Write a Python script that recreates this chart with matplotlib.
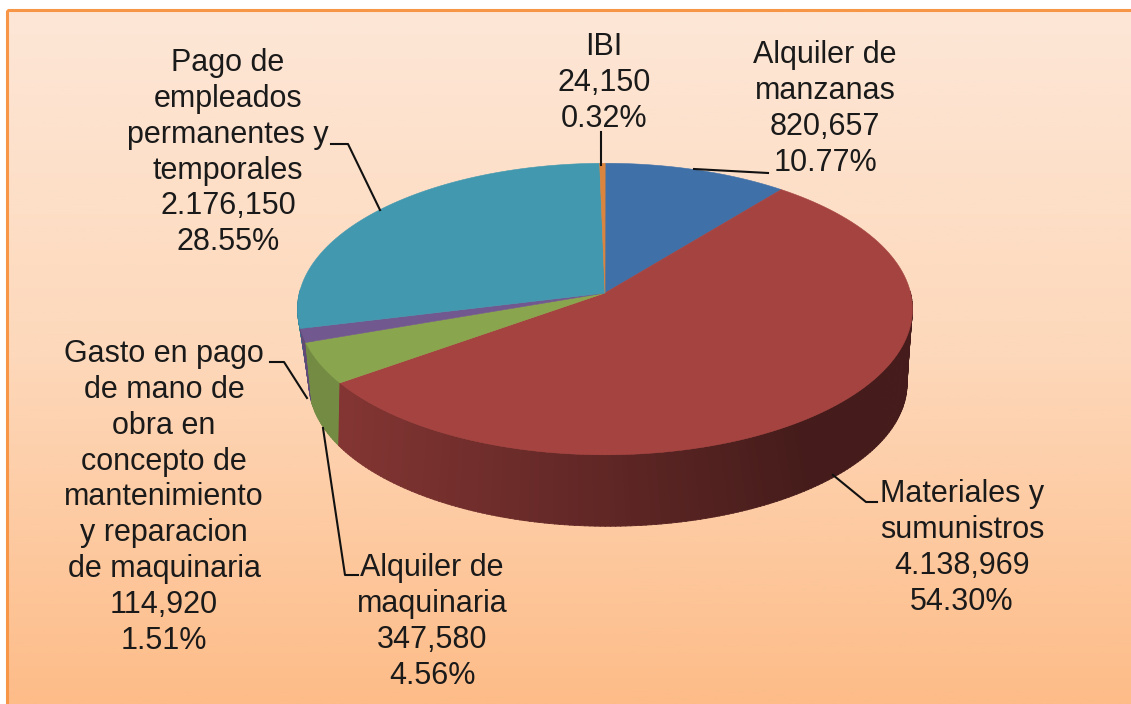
import numpy as np
import matplotlib
matplotlib.use('Agg')
from matplotlib import pyplot as plt
from matplotlib.patches import Polygon, Rectangle
from matplotlib.colors import LinearSegmentedColormap

# slices clockwise starting at twelve o'clock
names = ['Alquiler de\nmanzanas', 'Materiales y\nsumunistros', 'Alquiler de\nmaquinaria',
         'Gasto en pago\nde mano de\nobra en\nconcepto de\nmantenimiento\ny reparacion\nde maquinaria',
         'Pago de\nempleados\npermanentes y\ntemporales', 'IBI']
amounts = ['820,657', '4.138,969', '347,580', '114,920', '2.176,150', '24,150']
percents = [10.77, 54.30, 4.56, 1.51, 28.55, 0.32]
colors = ['#4070a8', '#a54340', '#89a54e', '#71588f', '#4198af', '#db843d']

label_pos = [(825, 40), (962, 479), (432, 553), (164, 339), (228, 48), (604, 32)]
leaders = [[(694, 169), (768, 173)],
           [(833, 475), (866, 502), (877, 502)],
           [(323, 428), (345, 575), (358, 575)],
           [(307, 398), (284, 362), (270, 362)],
           [(380, 210), (348, 144), (331, 144)],
           [(601, 132), (601, 165)]]


def top_xy(theta):
    # perspective view of the top of the cake, pixels
    u, v = np.sin(theta), -np.cos(theta)
    d = 1 - 0.11*v
    return 605 + 305.6*u/d, 293 + 144*v/d


def bottom_xy(theta):
    u, v = np.sin(theta), -np.cos(theta)
    d = 1 - 0.2*v
    return 608 + 293*u/d, 355 + 137*v/d


def darker(color, f):
    return np.array(matplotlib.colors.to_rgb(color))*f


fig = plt.figure(figsize=(11.31, 7.04), dpi=100)
ax = fig.add_axes([0, 0, 1, 1])
ax.set_xlim(0, 1131)
ax.set_ylim(704, 0)
ax.axis('off')

# background
grad = np.linspace(0, 1, 256).reshape(-1, 1)
cmap = LinearSegmentedColormap.from_list('bg', ['#fde7d7', '#fdd8ba', '#fdbc88'])
ax.imshow(grad, cmap=cmap, extent=(7, 1131, 704, 10), aspect='auto', zorder=0)
ax.set_xlim(0, 1131)
ax.set_ylim(704, 0)
ax.add_patch(Rectangle((7, 10), 1130, 700, fill=False, ec='#f79646', lw=2.2, zorder=1))

edges = np.radians(np.concatenate([[0], np.cumsum(percents)])*3.6)

# side wall, back to front so the nearest strips end up on top
strips = []
for i in range(len(percents)):
    steps = np.arange(edges[i], edges[i+1], np.radians(0.8))
    for a in steps:
        b = min(a + np.radians(0.9), edges[i+1])
        if -np.cos((a+b)/2) < -0.02:
            continue
        strips.append((-np.cos((a+b)/2), a, b, i))
strips.sort(key=lambda s: s[0])
for v, a, b, i in strips:
    xa, ya = top_xy(a)
    xb, yb = top_xy(b)
    xc, yc = bottom_xy(b)
    xd, yd = bottom_xy(a)
    # light falls from the left, wall gets darker to the right
    t = np.clip((xa - 340)/(800 - 340), 0, 1)
    f = 0.80 - 0.38*t
    if i != 1:
        f = 0.84
    c = darker(colors[i], f)
    ax.add_patch(Polygon([(xa, ya), (xb, yb), (xc, yc), (xd, yd)], fc=c, ec=c, lw=0.6, zorder=2))

# top face
for i in range(len(percents)):
    th = np.linspace(edges[i], edges[i+1], 120)
    x, y = top_xy(th)
    pts = np.column_stack([np.r_[605, x], np.r_[293, y]])
    ax.add_patch(Polygon(pts, fc=colors[i], ec=colors[i], lw=0.4, zorder=3))

# leader lines and labels
for i in range(len(names)):
    xs = [p[0] for p in leaders[i]]
    ys = [p[1] for p in leaders[i]]
    ax.plot(xs, ys, color='#111111', lw=1.5, zorder=4, solid_joinstyle='round')
    txt = names[i] + '\n' + amounts[i] + '\n' + ('%.2f%%' % percents[i])
    ax.text(label_pos[i][0], label_pos[i][1], txt, ha='center', va='top', multialignment='center',
            fontsize=22, family='Liberation Sans', color='#1a1a1a', linespacing=1.255, zorder=5)

plt.savefig('out.png', dpi=100)
